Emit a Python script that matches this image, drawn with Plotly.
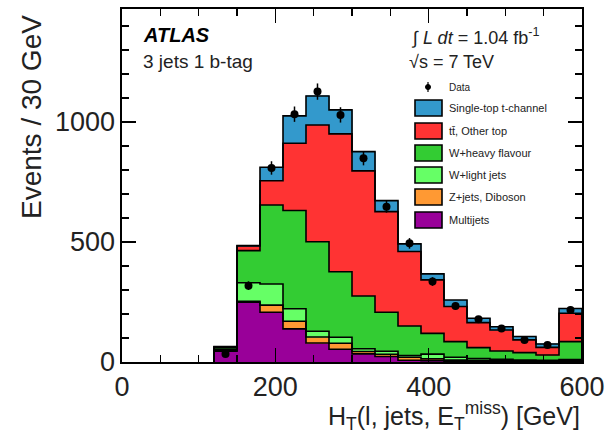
import plotly.graph_objects as go

# ---- data ----
bin_edges = [120, 150, 180, 210, 240, 270, 300, 330, 360, 390, 420, 450, 480, 510, 540, 570, 600]
bin_centers = [135, 165, 195, 225, 255, 285, 315, 345, 375, 405, 435, 465, 495, 525, 555, 585]
bin_width = 30

multijets   = [45, 249, 207, 138, 79, 53, 34, 23, 7, 5, 3, 2, 2, 1, 1, 2]
zjets_dib   = [3, 4, 30, 32, 25, 25, 10, 9, 13, 8, 5, 4, 3, 2, 2, 3]
w_light     = [5, 77, 88, 52, 24, 25, 11, 13, 7, 20, 12, 8, 6, 5, 4, 5]
w_heavy     = [7, 134, 329, 409, 373, 273, 220, 162, 123, 86, 65, 46, 35, 31, 22, 75]
ttbar_other = [3, 19, 101, 280, 486, 574, 521, 419, 310, 223, 146, 104, 87, 53, 32, 118]
single_top  = [1, 2, 56, 114, 121, 100, 80, 46, 32, 25, 27, 18, 14, 14, 14, 20]

data_values = [33, 318, 808, 1032, 1126, 1029, 848, 647, 494, 335, 233, 178, 140, 92, 71, 217]
data_errors = [6, 18, 28, 32, 34, 32, 29, 25, 22, 18, 15, 13, 12, 10, 8, 15]

series_names = ["Multijets", "Z+jets, Diboson", "W+light jets", "W+heavy flavour",
                "tt\u0304, Other top", "Single-top t-channel"]
series_values = [multijets, zjets_dib, w_light, w_heavy, ttbar_other, single_top]
series_colors = ["#990099", "#ff9933", "#66ff66", "#33cc33", "#ff3333", "#3399cc"]

x_ticks = [0, 200, 400, 600]
y_ticks = [0, 500, 1000]

FONT = "Liberation Sans, Arial, Helvetica, sans-serif"

fig = go.Figure()
for name, vals, col in zip(series_names, series_values, series_colors):
    fig.add_trace(go.Bar(
        x=bin_centers, y=vals, width=bin_width, name=name,
        marker=dict(color=col, line=dict(color=col, width=0.6)),
        showlegend=False, hoverinfo="skip",
    ))

# stacked step outlines (ROOT style)
cum = [0] * len(bin_centers)
for vals in series_values:
    cum = [c + v for c, v in zip(cum, vals)]
    xs = [bin_edges[0]] + bin_edges[:-1] + [bin_edges[-1], bin_edges[-1]]
    ys = [0] + cum + [cum[-1], 0]
    fig.add_trace(go.Scatter(
        x=xs, y=ys, mode="lines", line=dict(color="black", width=1.6, shape="hv"),
        showlegend=False, hoverinfo="skip",
    ))

fig.add_trace(go.Scatter(
    x=bin_centers, y=data_values, mode="markers", name="Data",
    marker=dict(color="black", size=8),
    error_y=dict(type="data", array=data_errors, color="black", thickness=1.5, width=0),
    showlegend=False,
))

# ---- layout geometry (pixels) ----
W, H = 608, 434
L, R, T, B = 122, 26, 9, 72
pw, ph = W - L - R, H - T - B


def px(x):
    return (x - L) / pw


def py(y):
    return (H - B - y) / ph


annotations = []
shapes = []

annotations.append(dict(text="<b><i>ATLAS</i></b>", x=px(141), y=py(35), xref="paper", yref="paper",
                        xanchor="left", yanchor="middle", showarrow=False,
                        font=dict(family=FONT, size=20, color="black")))
annotations.append(dict(text="3 jets 1 b-tag", x=px(141), y=py(62), xref="paper", yref="paper",
                        xanchor="left", yanchor="middle", showarrow=False,
                        font=dict(family=FONT, size=19, color="#222")))
annotations.append(dict(text="\u222b <i>L dt</i> = 1.04 fb<sup>-1</sup>", x=px(409), y=py(36), xref="paper", yref="paper",
                        xanchor="left", yanchor="middle", showarrow=False,
                        font=dict(family=FONT, size=18, color="#222")))
annotations.append(dict(text="\u221as = 7 TeV", x=px(407), y=py(62), xref="paper", yref="paper",
                        xanchor="left", yanchor="middle", showarrow=False,
                        font=dict(family=FONT, size=18, color="#222")))

# legend
leg_x0, leg_x1 = 415, 442
text_x = 447
shapes.append(dict(type="circle", xref="paper", yref="paper",
                   x0=px(425.5), x1=px(430.5), y0=py(89.5), y1=py(84.5),
                   fillcolor="black", line=dict(color="black", width=1)))
shapes.append(dict(type="line", xref="paper", yref="paper",
                   x0=px(428), x1=px(428), y0=py(92), y1=py(82),
                   line=dict(color="black", width=1.2)))
annotations.append(dict(text="Data", x=px(text_x), y=py(87), xref="paper", yref="paper",
                        xanchor="left", yanchor="middle", showarrow=False,
                        font=dict(family=FONT, size=10, color="#222")))
row_y = [108, 131, 153, 175, 197, 220]
for name, col, yc in zip(series_names[::-1], series_colors[::-1], row_y):
    shapes.append(dict(type="rect", xref="paper", yref="paper",
                       x0=px(leg_x0), x1=px(leg_x1), y0=py(yc + 8), y1=py(yc - 8),
                       fillcolor=col, line=dict(color="black", width=1.6)))
    annotations.append(dict(text=name, x=px(text_x), y=py(yc), xref="paper", yref="paper",
                            xanchor="left", yanchor="middle", showarrow=False,
                            font=dict(family=FONT, size=11, color="#222")))

# axis titles
annotations.append(dict(text="H<sub>T</sub>(l, jets, E<sub>T</sub><sup>miss</sup>) [GeV]",
                        x=1.0, y=py(416), xref="paper", yref="paper",
                        xanchor="right", yanchor="middle", showarrow=False,
                        font=dict(family=FONT, size=25, color="#222")))
annotations.append(dict(text="Events / 30 GeV", x=px(31), y=py(13), xref="paper", yref="paper",
                        xanchor="center", yanchor="top", textangle=-90, showarrow=False,
                        font=dict(family=FONT, size=28, color="#222")))

fig.update_layout(
    width=W, height=H,
    margin=dict(l=L, r=R, t=T, b=B, pad=0, autoexpand=False),
    barmode="stack", bargap=0,
    plot_bgcolor="white", paper_bgcolor="white",
    showlegend=False,
    font=dict(family=FONT, color="#222"),
    annotations=annotations, shapes=shapes,
    xaxis=dict(range=[0, 600], tickmode="array", tickvals=x_ticks, automargin=False,
               ticks="inside", ticklen=14, tickwidth=1.5, tickcolor="black",
               minor=dict(dtick=50, ticks="inside", ticklen=7, tickwidth=1.5, tickcolor="black"),
               showline=True, linecolor="black", linewidth=1.6, mirror="allticks",
               showgrid=False, zeroline=False,
               tickfont=dict(family=FONT, size=27, color="#222")),
    yaxis=dict(range=[0, 1470], tickmode="array", tickvals=y_ticks, automargin=False,
               ticks="inside", ticklen=14, tickwidth=1.5, tickcolor="black",
               minor=dict(dtick=100, ticks="inside", ticklen=7, tickwidth=1.5, tickcolor="black"),
               showline=True, linecolor="black", linewidth=1.6, mirror="allticks",
               showgrid=False, zeroline=False,
               tickfont=dict(family=FONT, size=27, color="#222")),
)

fig.write_html("out.html", config={"displayModeBar": False, "staticPlot": True},
               post_script="document.body.style.margin='0';document.body.style.padding='0';")
